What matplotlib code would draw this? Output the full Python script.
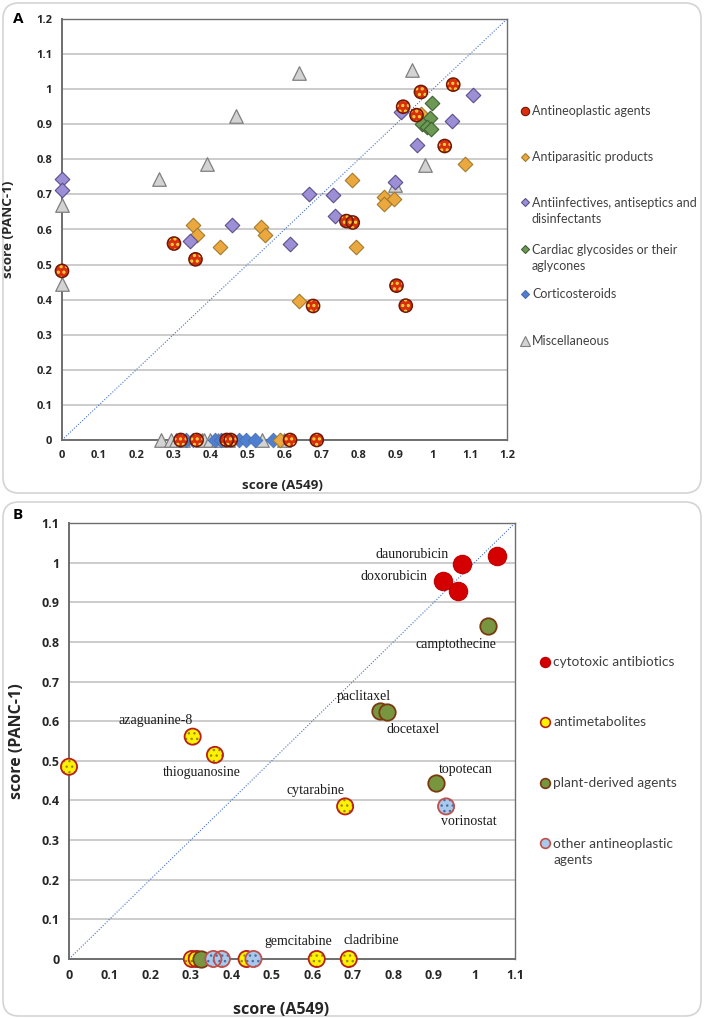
import matplotlib
matplotlib.use("Agg")
import matplotlib.pyplot as plt
import matplotlib.patches as mpatches
from matplotlib.lines import Line2D
from matplotlib.transforms import IdentityTransform

plt.rcParams['font.family'] = ['Lato', 'DejaVu Sans']
BOLD = ['Open Sans', 'DejaVu Sans']

# ---------------- panel A data ----------------
neo_x = [0, 0.302, 0.360, 0.677, 0.767, 0.784, 0.902, 0.927, 0.920, 0.956, 0.968, 1.055, 1.032,
         0.320, 0.363, 0.444, 0.455, 0.615, 0.687]
neo_y = [0.482, 0.560, 0.515, 0.382, 0.624, 0.620, 0.440, 0.383, 0.950, 0.926, 0.992, 1.013, 0.838,
         0, 0, 0, 0, 0, 0]

para_x = [0.354, 0.365, 0.426, 0.537, 0.547, 0.639, 0.782, 0.794, 0.869, 0.895, 0.869, 0.969, 1.088, 0.589]
para_y = [0.612, 0.584, 0.549, 0.608, 0.583, 0.396, 0.741, 0.551, 0.693, 0.687, 0.674, 0.929, 0.788, 0]

inf_x = [0, 0, 0.344, 0.458, 0.615, 0.665, 0.731, 0.737, 0.899, 0.913, 0.956, 1.053, 1.107]
inf_y = [0.744, 0.712, 0.568, 0.612, 0.560, 0.700, 0.698, 0.638, 0.736, 0.936, 0.840, 0.909, 0.983]

card_x = [0.998, 0.992, 0.971, 0.983, 0.996]
card_y = [0.961, 0.919, 0.902, 0.893, 0.886]

cort_x = [0.318, 0.335, 0.352, 0.412, 0.430, 0.478, 0.495, 0.520, 0.570]
cort_y = [0, 0, 0, 0, 0, 0, 0, 0, 0]

misc_x = [0, 0, 0.261, 0.390, 0.470, 0.639, 0.944, 0.978, 0.899,
          0.266, 0.294, 0.307, 0.325, 0.377, 0.384, 0.399, 0.421, 0.448, 0.540, 0.599]
misc_y = [0.670, 0.446, 0.744, 0.788, 0.923, 1.045, 1.054, 0.783, 0.726,
          0, 0, 0, 0, 0, 0, 0, 0, 0, 0, 0]

ticks_a = [0, 0.1, 0.2, 0.3, 0.4, 0.5, 0.6, 0.7, 0.8, 0.9, 1, 1.1, 1.2]
legend_a = ['Antineoplastic agents', 'Antiparasitic products',
            'Antiinfectives, antiseptics and\ndisinfectants',
            'Cardiac glycosides or their\naglycones', 'Corticosteroids', 'Miscellaneous']

# ---------------- panel B data ----------------
cyto_names = ['daunorubicin', '', 'doxorubicin', '']
cyto_x = [0.970, 1.056, 0.922, 0.959]
cyto_y = [0.997, 1.018, 0.954, 0.929]

antim_names = ['', 'azaguanine-8', 'thioguanosine', 'cytarabine', 'gemcitabine', 'cladribine', '', '', '']
antim_x = [0, 0.305, 0.360, 0.681, 0.611, 0.690, 0.303, 0.315, 0.438]
antim_y = [0.485, 0.561, 0.515, 0.385, 0, 0, 0, 0, 0]

plant_names = ['camptothecine', 'paclitaxel', 'docetaxel', 'topotecan', '']
plant_x = [1.034, 0.768, 0.784, 0.905, 0.325]
plant_y = [0.841, 0.626, 0.622, 0.444, 0]

other_names = ['vorinostat', '', '', '']
other_x = [0.930, 0.356, 0.377, 0.455]
other_y = [0.385, 0, 0, 0]

ticks_b = [0, 0.1, 0.2, 0.3, 0.4, 0.5, 0.6, 0.7, 0.8, 0.9, 1, 1.1]
legend_b = ['cytotoxic antibiotics', 'antimetabolites', 'plant-derived agents',
            'other antineoplastic\nagents']

# label offsets in pixels (dx, dy, ha)
label_offsets = {
    'daunorubicin': (-14, 9, 'right'), 'doxorubicin': (-15, 4, 'right'),
    'camptothecine': (-32, -19, 'center'), 'paclitaxel': (-17, 14, 'center'),
    'docetaxel': (26, -17, 'center'), 'topotecan': (30, 14, 'center'),
    'vorinostat': (23, -15, 'center'), 'azaguanine-8': (-37, 16, 'center'),
    'thioguanosine': (-13, -18, 'center'), 'cytarabine': (-30, 16, 'center'),
    'gemcitabine': (-18, 18, 'center'), 'cladribine': (23, 18, 'center'),
}

fig = plt.figure(figsize=(7.08, 10.19), dpi=100)
W, H = 708, 1019

# rounded panel frames (pixel coords, origin bottom-left)
for (x0, y0, w, h) in [(3, H - 493, 698, 490), (3, 3, 698, H - 505)]:
    fig.add_artist(mpatches.FancyBboxPatch((x0, y0), w, h,
                   boxstyle='round,pad=0,rounding_size=16', transform=IdentityTransform(),
                   facecolor='white', edgecolor='#d4d4d4', linewidth=1.2, zorder=0))


def style_axes(ax, ticks, tsize):
    ax.set_xlim(ticks[0], ticks[-1])
    ax.set_ylim(ticks[0], ticks[-1])
    ax.set_xticks(ticks)
    ax.set_yticks(ticks)
    ax.set_xticklabels([f'{t:g}' for t in ticks])
    ax.set_yticklabels([f'{t:g}' for t in ticks])
    ax.tick_params(length=0, labelsize=tsize, colors='#262626', pad=7)
    for lab in ax.get_xticklabels() + ax.get_yticklabels():
        lab.set_fontweight('bold')
        lab.set_family(BOLD)
    ax.grid(axis='y', color='#c4c4c4', linewidth=1.2)
    ax.set_axisbelow(True)
    for s in ax.spines.values():
        s.set_color('#6e6e6e')
        s.set_linewidth(1.0)
    ax.spines['left'].set_linewidth(1.4)
    ax.spines['bottom'].set_linewidth(1.4)
    ax.patch.set_alpha(0)
    ax.plot([ticks[0], ticks[-1]], [ticks[0], ticks[-1]], color='#4472c4',
            linewidth=0.8, linestyle=(0, (1, 1.5)), zorder=1)


def hatched(ax, x, y, s, marker, face, dots, hatch, edge, lw):
    ax.scatter(x, y, s=s, marker=marker, facecolor=face, edgecolor=dots, hatch=hatch,
               linewidth=0, clip_on=False, zorder=3)
    ax.scatter(x, y, s=s, marker=marker, facecolor='none', edgecolor=edge,
               linewidth=lw, clip_on=False, zorder=3)


# ---------------- panel A ----------------
plt.rcParams['hatch.linewidth'] = 1.5
axA = fig.add_axes([62 / W, 1 - 440 / H, 445 / W, 421 / H])
style_axes(axA, ticks_a, 8)
axA.scatter(misc_x, misc_y, s=95, marker='^', facecolor='#d3d3d3', edgecolor='#7f7f7f',
            linewidth=0.9, clip_on=False, zorder=3)
axA.scatter(cort_x, cort_y, s=55, marker='D', facecolor='#4f7fd0', edgecolor='#4a6fb0',
            linewidth=0.6, clip_on=False, zorder=3)
axA.scatter(para_x, para_y, s=55, marker='D', facecolor='#eba83f', edgecolor='#a67a2c',
            linewidth=0.8, clip_on=False, zorder=3)
axA.scatter(inf_x, inf_y, s=55, marker='D', facecolor='#9d8fd6', edgecolor='#5b4f8c',
            linewidth=0.8, clip_on=False, zorder=3)
axA.scatter(card_x, card_y, s=55, marker='D', facecolor='#6c9a55', edgecolor='#3f6232',
            linewidth=0.8, clip_on=False, zorder=3)
hatched(axA, neo_x, neo_y, 90, 'o', '#d8300e', '#ffd83a', '...', '#6e1808', 1.1)

axA.set_xlabel('score (A549)', fontsize=9.7, fontweight='bold', color='#262626', family=BOLD)
axA.set_ylabel('score (PANC-1)', fontsize=9.7, fontweight='bold', color='#262626', family=BOLD)
axA.xaxis.set_label_coords(0.496, -0.093)
axA.yaxis.set_label_coords(-0.106, 0.5)
fig.text(18 / W, 1 - 19 / H, 'A', fontsize=11, fontweight='bold', ha='center', va='center',
         family=BOLD)

legA_style = [
    dict(marker='o', markerfacecolor='#d8300e', markeredgecolor='#6e1808', markersize=6),
    dict(marker='D', markerfacecolor='#eba83f', markeredgecolor='#a67a2c', markersize=4.5),
    dict(marker='D', markerfacecolor='#9d8fd6', markeredgecolor='#5b4f8c', markersize=4.5),
    dict(marker='D', markerfacecolor='#6c9a55', markeredgecolor='#3f6232', markersize=4.5),
    dict(marker='D', markerfacecolor='#4f7fd0', markeredgecolor='#4a6fb0', markersize=4.5),
    dict(marker='^', markerfacecolor='#d3d3d3', markeredgecolor='#7f7f7f', markersize=6.5),
]
legA_y = [110.7, 156.7, 202.3, 249, 294.3, 340.7]
for lab, yy, st in zip(legend_a, legA_y, legA_style):
    fig.add_artist(Line2D([524.5 / W], [1 - yy / H], transform=fig.transFigure,
                          linestyle='none', markeredgewidth=0.8, **st))
    nlines = lab.count('\n') + 1
    yc = yy + (nlines - 1) * 17 / 2
    fig.text(532 / W, 1 - yc / H, lab, fontsize=9, color='#404040', ha='left',
             va='center', linespacing=1.4)

# ---------------- panel B ----------------
axB = fig.add_axes([69 / W, 1 - 959 / H, 446 / W, 436 / H])
style_axes(axB, ticks_b, 9)
plt.rcParams['hatch.linewidth'] = 1.0
hatched(axB, antim_x, antim_y, 135, 'o', '#fff200', '#9a8a20', '...', '#b8201a', 1.3)
axB.scatter(plant_x, plant_y, s=140, marker='o', facecolor='#77963f', edgecolor='#7a3a10',
            linewidth=1.3, clip_on=False, zorder=3)
hatched(axB, other_x, other_y, 135, 'o', '#a9c8ea', '#4a6fa8', '...', '#c0504d', 1.3)
axB.scatter(cyto_x, cyto_y, s=175, marker='o', facecolor='#d40000', edgecolor='#c00000',
            linewidth=0.8, clip_on=False, zorder=3)

for names, xs, ys in [(cyto_names, cyto_x, cyto_y), (antim_names, antim_x, antim_y),
                      (plant_names, plant_x, plant_y), (other_names, other_x, other_y)]:
    for n, x, y in zip(names, xs, ys):
        if n:
            dx, dy, ha = label_offsets[n]
            axB.annotate(n, (x, y), xytext=(dx, dy), textcoords='offset pixels',
                         ha=ha, va='center', fontsize=10, family='Liberation Serif',
                         color='#1a1a1a', zorder=4)

axB.set_xlabel('score (A549)', fontsize=11.5, fontweight='bold', color='#262626', family=BOLD)
axB.set_ylabel('score (PANC-1)', fontsize=11.5, fontweight='bold', color='#262626', family=BOLD)
axB.xaxis.set_label_coords(0.475, -0.099)
axB.yaxis.set_label_coords(-0.099, 0.5)
fig.text(18 / W, 1 - 515 / H, 'B', fontsize=11, fontweight='bold', ha='center', va='center',
         family=BOLD)

legB_style = [
    dict(markerfacecolor='#d40000', markeredgecolor='#c00000'),
    dict(markerfacecolor='#fff200', markeredgecolor='#b8201a'),
    dict(markerfacecolor='#77963f', markeredgecolor='#7a3a10'),
    dict(markerfacecolor='#a9c8ea', markeredgecolor='#c0504d'),
]
legB_y = [662.3, 722.3, 782.7, 842.7]
for lab, yy, st in zip(legend_b, legB_y, legB_style):
    fig.add_artist(Line2D([545 / W], [1 - yy / H], transform=fig.transFigure,
                          linestyle='none', marker='o', markersize=7,
                          markeredgewidth=1.2, **st))
    nlines = lab.count('\n') + 1
    yc = yy + (nlines - 1) * 18 / 2
    fig.text(553 / W, 1 - yc / H, lab, fontsize=9.8, color='#404040', ha='left',
             va='center', linespacing=1.4)

fig.savefig('out.png', dpi=100)
